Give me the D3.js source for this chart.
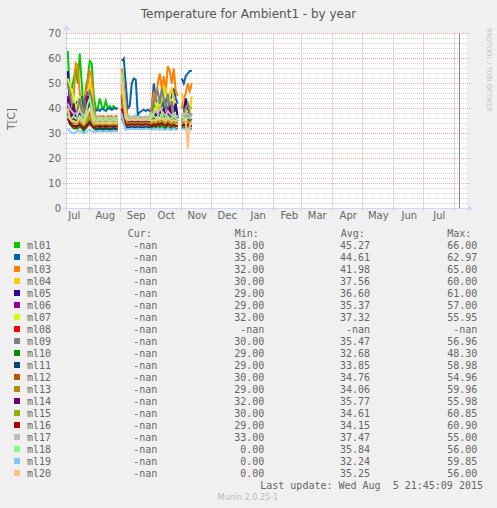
<!DOCTYPE html>
<html>
<head>
<meta charset="utf-8">
<script src="https://cdn.jsdelivr.net/npm/d3@7"></script>
<style>
html, body { margin: 0; padding: 0; background: #f0f0f0; }
svg { display: block; }
text { font-family: "DejaVu Sans", sans-serif; fill: #666; }
.mono { font-family: "DejaVu Sans Mono", monospace; font-size: 10px; white-space: pre; }
</style>
</head>
<body>
<svg id="chart" width="497" height="508"></svg>
<script>
// Werte (alle 2 Tage ab 10. Juli 2014, null = Lücke)
var ml01 = [63,47,48,52,56,50,62,50,38,48,52,59,58,45, 40,40,44,41,40,43,40,41,40,41,40,40, null, 52,48,41,
  36.5,36.8,36.5,37,36.8,36.5,36.8,36.5,36.5,36.8,36.5,36.8, 38,42,40,41,39,43,41,40,44,41,42,40,39,39, null, 40,41,42,40,41,40];
var ml02 = [40,45,46,42,42,43,43,45,38,40,41,40,41,40, 39,39.5,39,40,39.5,39,40,40,39.5,40,40,40, null, 59,60,50,
  40,41,50,52,51.5,37.5,38.5,39,39.5,39,39.5,39, 40,50,44,42,43,41,42,44,41,43,45,48,44,42, null, 52,50,53,54,55,55];
var ml03 = [45,40,43,45,58,57,46,40,37,46,50,55,53,40, 37,36.5,37,36.8,37,36.5,37,36.8,37,36.5,37,36.8, null, 56,50,42,
  35.5,36,35.5,36,35.8,35.5,36,35.5,35.8,36,35.5,36, 40,46,44,50,54,48,53,46,57,55,50,56,47,45, null, 40,44,46,50,47,50];
var ml04 = [50,46,44,40,38,40,42,38,36,40,44,50,48,38, 35,35,35.5,35,35,35.5,35,35,35,35.5,35,35, null, 50,45,38,
  35,35.5,35,35,35.5,35,35,35,35.5,35,35,35, 37,40,38,42,40,44,49,48,42,46,48,44,40,38, null, 46,43,38,37,39,45];
var ml05 = [55,42,38,36,35,36,38,35,33,36,40,47,38,34, 33.5,33.5,34,33.5,33.5,34,33.5,33.5,33.5,34,33.5,33.5, null, 45,40,35,
  34,34,34.5,34,34,34.5,34,34,34,34.5,34,34, 35,36,38,36,37,35,38,36,40,37,36,38,42,36, null, 36,38,44,40,37,38];
var ml06 = [45,40,38,40,36,35,37,36,33,44,46,42,37,34, 33.8,34,33.8,33.8,34,33.8,33.8,34,33.8,33.8,34,33.8, null, 44,40,35,
  34.5,34.5,35,34.5,34.5,35,34.5,34.5,34.5,35,34.5,34.5, 35,37,36,38,39,36,37,35,38,36,35,37,36,35, null, 35,36,37,36,35,36];
var ml07 = [52,49,47,44,40,42,45,38,35,40,42,48,44,36, 35.5,35.5,36,35.5,35.5,36,35.5,35.5,35.5,36,35.5,35.5, null, 48,42,36,
  35.5,35.5,36,35.5,35.5,36,35.5,35.5,35.5,36,35.5,35.5, 36,38,40,42,44,46,47,45,42,44,40,38,37,36, null, 36,38,40,38,37,38];
var ml08 = [];
var ml09 = [50,46,42,40,38,40,44,39,36,42,45,47,44,37, 35.2,35.5,35.2,35.2,35.5,35.2,35.2,35.5,35.2,35.2,35.5,35.2, null, 50,44,37,
  35.5,35.5,36,35.5,35.5,36,35.5,35.5,35.5,36,35.5,35.5, 38,42,45,47,42,48,44,40,46,39,43,38,36,37, null, 37,38,40,42,38,37];
var ml10 = [38,34,33,32,32,32,33,32,31,32,33,34,33,32, 31.5,31.5,31.8,31.5,31.5,31.8,31.5,31.5,31.5,31.8,31.5,31.5, null, 36,34,32,
  32,32,32.3,32,32,32.3,32,32,32,32.3,32,32, 32,33,32.5,33,32.5,33,32.5,32,33,32.5,32,32.5,32,32, null, 32,32.5,32,32.5,32,32];
var ml11 = [40,35,34,33,33,33,34,33,32,33,34,35,34,33, 32,32,32.3,32,32,32.3,32,32,32,32.3,32,32, null, 38,35,33,
  32.5,32.5,32.8,32.5,32.5,32.8,32.5,32.5,32.5,32.8,32.5,32.5, 33,34,33.5,34,33.5,34,33.5,33,34,33.5,33,33.5,33,33, null, 33,33.5,33,33.5,33,33];
var ml12 = [42,37,36,35,35,35,36,35,34,35,36,38,36,34, 33.8,33.8,34,33.8,33.8,34,33.8,33.8,33.8,34,33.8,33.8, null, 44,38,35,
  34,34,34.3,34,34,34.3,34,34,34,34.3,34,34, 34.5,35,35.5,35,36,35,35.5,35,36,35,34.5,35,34.5,34.5, null, 34.5,35,34.5,35,34.5,34.5];
var ml13 = [40,36,35,34,34,34,35,34,33,34,35,36,35,33.5, 33,33,33.3,33,33,33.3,33,33,33,33.3,33,33, null, 42,37,34,
  33.5,33.5,33.8,33.5,33.5,33.8,33.5,33.5,33.5,33.8,33.5,33.5, 34,34.5,34,35,34.5,35,34.5,34,35,34.5,34,34.5,34,34, null, 34,34.5,34,34.5,34,34];
var ml14 = [44,38,36,42,35,35,36,35,34,38,45,40,36,34.5, 34.2,34.2,34.5,34.2,34.2,34.5,34.2,34.2,34.2,34.5,34.2,34.2, null, 45,39,35,
  34.8,34.8,35,34.8,34.8,35,34.8,34.8,34.8,35,34.8,34.8, 35,36,35.5,37,36,38,40,37,36,41,37,36,35.5,35, null, 35,36,37,38,36,35.5];
var ml15 = [40,36,35,34,34,35,36,34,33,35,36,37,35,33.5, 33.5,33.5,33.8,33.5,33.5,33.8,33.5,33.5,33.5,33.8,33.5,33.5, null, 46,39,35,
  34,34,34.3,34,34,34.3,34,34,34,34.3,34,34, 34.5,35,34.5,35.5,35,36,35,34.5,35.5,35,34.5,35,34.5,34.5, null, 34.5,35,34.5,35,34.5,34.5];
var ml16 = [36,34,33,33,32.5,33,33.5,33,32,33,33.5,34,33,32.5, 32.8,32.8,33,32.8,32.8,33,32.8,32.8,32.8,33,32.8,32.8, null, 40,36,33.5,
  33.5,33.5,33.8,33.5,33.5,33.8,33.5,33.5,33.5,33.8,33.5,33.5, 33,33.5,33,34,33.5,34,33.5,33,34,33.5,33,33.5,33,33, null, 33,33.5,33,33.5,33,33];
var ml17 = [42,40,39,38,38,38,39,38,37,38,39,40,39,37, 36.2,36.2,36.5,36.2,36.2,36.5,36.2,36.2,36.2,36.5,36.2,36.2, null, 52,45,38,
  36.5,36.8,36.5,37,36.8,36.5,36.8,36.5,36.5,36.8,36.5,36.8, 37,38,39,38,40,39,38,37,39,38,37,38,37,37, null, 37,38,37,38,37,37];
var ml18 = [37,36,36,37,36,36,37,36,35,38,42,44,40,36, 35.3,35.3,35.6,35.3,35.3,35.6,35.3,35.3,35.3,35.6,35.3,35.3, null, 54,46,37,
  35.5,35.5,35.8,35.5,35.5,35.8,35.5,35.5,35.5,35.8,35.5,35.5, 38,37,36,37,36,38,36,36,37,36,36,37,36,35.5, null, 36,36.5,36,36.5,36,36];
var ml19 = [32,31,30.5,30,30.5,31,31,30.5,30,30.5,31,31.5,31,30.5, 30.8,30.8,31,30.8,30.8,31,30.8,30.8,30.8,31,30.8,30.8, null, 38,34,31.5,
  31.8,31.8,32,31.8,31.8,32,31.8,31.8,31.8,32,31.8,31.8, 31.5,32,31.5,32,31.5,32,31.5,31.5,32,31.5,31.5,32,31.5,31.5, null, 31.5,32,31.5,32,31.5,31.5];
var ml20 = [40,36,35,35,34.5,35,36,35,34,36,38,40,37,34.5, 34.2,34.2,34.5,34.2,34.2,34.5,34.2,34.2,34.2,34.5,34.2,34.2, null, 51,44,36,
  35.3,35.3,35.6,35.3,35.3,35.6,35.3,35.3,35.3,35.6,35.3,35.3, 35,35.5,35,36,35.5,36,35.5,35,36,35.5,35,35.5,35,35, null, 35,35.5,35,24,33,35];

var seriesNames = ["ml01","ml02","ml03","ml04","ml05","ml06","ml07","ml08","ml09","ml10",
                   "ml11","ml12","ml13","ml14","ml15","ml16","ml17","ml18","ml19","ml20"];
var seriesColors = ["#00cc00","#0066b3","#ff8000","#ffcc00","#330099","#990099","#ccff00","#ff0000","#808080","#008f00",
                    "#00487d","#b35a00","#b38f00","#6b006b","#8fb300","#b30000","#bebebe","#80ff80","#80c9ff","#ffc080"];
var seriesValues = [ml01,ml02,ml03,ml04,ml05,ml06,ml07,ml08,ml09,ml10,ml11,ml12,ml13,ml14,ml15,ml16,ml17,ml18,ml19,ml20];

var curValues = ["-nan","-nan","-nan","-nan","-nan","-nan","-nan","-nan","-nan","-nan",
                 "-nan","-nan","-nan","-nan","-nan","-nan","-nan","-nan","-nan","-nan"];
var minValues = ["38.00","35.00","32.00","30.00","29.00","29.00","32.00","-nan","30.00","29.00",
                 "29.00","30.00","29.00","32.00","30.00","29.00","33.00","0.00","0.00","0.00"];
var avgValues = ["45.27","44.61","41.98","37.56","36.60","35.37","37.32","-nan","35.47","32.68",
                 "33.85","34.76","34.06","35.77","34.61","34.15","37.47","35.84","32.24","35.25"];
var maxValues = ["66.00","62.97","65.00","60.00","61.00","57.00","55.95","-nan","56.96","48.30",
                 "58.98","54.96","59.96","55.98","60.85","60.90","55.00","56.00","59.85","56.00"];

var yTicks = [0, 10, 20, 30, 40, 50, 60, 70];
var monthNames = ["Jul","Aug","Sep","Oct","Nov","Dec","Jan","Feb","Mar","Apr","May","Jun","Jul"];

var dataStart = new Date(Date.UTC(2014, 6, 10));
var stepDays = 2;
var lastUpdate = new Date(Date.UTC(2015, 7, 5, 21, 45, 9));

(function() {
    var svg = d3.select("#chart");
    var plotLeft = 67, plotRight = 467, plotTop = 33.5, plotBottom = 208.5;

    var x = d3.scaleUtc()
        .domain([new Date(Date.UTC(2014, 6, 9, 6)), new Date(Date.UTC(2015, 7, 13, 6))])
        .range([plotLeft, plotRight]);
    var y = d3.scaleLinear().domain([0, 70]).range([plotBottom, plotTop]);

    // Zeichenfläche
    svg.append("rect").attr("x", plotLeft).attr("y", plotTop)
        .attr("width", plotRight - plotLeft).attr("height", plotBottom - plotTop)
        .attr("fill", "#ffffff");

    // Raster
    var grid = svg.append("g");
    var minor = d3.range(0, 71, 2).filter(v => v % 10 !== 0);
    grid.selectAll(".minor").data(minor).enter().append("line")
        .attr("x1", 65).attr("x2", 468)
        .attr("y1", d => y(d)).attr("y2", d => y(d))
        .attr("stroke", "#d4d4d4").attr("stroke-dasharray", "1,1");

    var monthStarts = d3.utcMonth.range(new Date(Date.UTC(2014, 7, 1)), new Date(Date.UTC(2015, 7, 2)));
    grid.selectAll(".vgrid").data(monthStarts).enter().append("line")
        .attr("x1", d => Math.round(x(d)) - 0.5).attr("x2", d => Math.round(x(d)) - 0.5)
        .attr("y1", plotTop).attr("y2", 211)
        .attr("stroke", "#f4a3a3").attr("stroke-dasharray", "1,1");

    grid.selectAll(".major").data(yTicks.filter(v => v > 0)).enter().append("line")
        .attr("x1", 63).attr("x2", 470)
        .attr("y1", d => y(d)).attr("y2", d => y(d))
        .attr("stroke", "#f4a3a3").attr("stroke-dasharray", "1,1");

    // Linien
    var line = d3.line()
        .defined(d => d != null)
        .x((d, i) => x(d3.utcDay.offset(dataStart, i * stepDays)))
        .y(d => y(d));

    svg.append("g").selectAll("path")
        .data(seriesValues)
        .enter().append("path")
        .attr("d", d => d.length ? line(d) : null)
        .attr("fill", "none")
        .attr("stroke", (d, i) => seriesColors[i])
        .attr("stroke-width", 2);

    // Zeitpunkt letztes Update
    svg.append("line")
        .attr("x1", Math.round(x(lastUpdate)) - 0.5).attr("x2", Math.round(x(lastUpdate)) - 0.5)
        .attr("y1", plotTop).attr("y2", plotBottom)
        .attr("stroke", "#888888");

    // Achsen
    var axisColor = "#cfd6f8";
    svg.append("line").attr("x1", 66.5).attr("x2", 66.5).attr("y1", 211).attr("y2", 29)
        .attr("stroke", axisColor);
    svg.append("path").attr("d", "M63.5,30L69.5,30L66.5,25Z").attr("fill", axisColor);
    svg.append("line").attr("x1", 63).attr("x2", 469).attr("y1", plotBottom).attr("y2", plotBottom)
        .attr("stroke", axisColor);
    svg.append("path").attr("d", "M468,205.5L468,211.5L473,208.5Z").attr("fill", axisColor);

    var yAxis = svg.append("g").attr("transform", "translate(" + plotLeft + ",0)")
        .call(d3.axisLeft(y).tickValues(yTicks).tickSize(0).tickPadding(6));
    yAxis.select(".domain").remove();
    yAxis.selectAll("text").style("font-size", "10px").style("font-family", "DejaVu Sans").attr("fill", "#666");

    var labelDates = monthNames.map((m, i) => d3.utcDay.offset(d3.utcMonth.offset(new Date(Date.UTC(2014, 6, 1)), i), 15));
    var xAxis = svg.append("g").attr("transform", "translate(0," + plotBottom + ")")
        .call(d3.axisBottom(x).tickValues(labelDates).tickFormat((d, i) => monthNames[i]).tickSize(0).tickPadding(3.5));
    xAxis.select(".domain").remove();
    xAxis.selectAll("text").style("font-size", "10px").style("font-family", "DejaVu Sans").attr("fill", "#666");

    // Titel und Beschriftungen
    svg.append("text").attr("x", 248.5).attr("y", 17.5).attr("text-anchor", "middle")
        .style("font-size", "12px").style("fill", "#555")
        .text("Temperature for Ambient1 - by year");

    svg.append("text").attr("transform", "translate(11.5,119) rotate(-90)")
        .attr("text-anchor", "middle").attr("dy", "0.35em")
        .style("font-size", "10.5px")
        .text("T[C]");

    svg.append("text").attr("transform", "translate(487,28) rotate(90)")
        .attr("text-anchor", "start")
        .style("font-size", "6.5px").style("fill", "#c0c0c0")
        .text("RRDTOOL / TOBI OETIKER");

    // Legende
    var legend = svg.append("g");
    var headY = 237, rowY = 249, rowH = 12;
    [["Cur:", 127.7], ["Min:", 234.7], ["Avg:", 340.7], ["Max:", 447.3]].forEach(function(h) {
        legend.append("text").attr("class", "mono").attr("x", h[1]).attr("y", headY).text(h[0]);
    });

    var rows = legend.selectAll(".row").data(seriesNames).enter().append("g")
        .attr("transform", (d, i) => "translate(0," + (rowY + i * rowH) + ")");
    rows.append("rect").attr("x", 14).attr("y", -7).attr("width", 6).attr("height", 6)
        .attr("fill", (d, i) => seriesColors[i]);
    rows.append("text").attr("class", "mono").attr("x", 27).text(d => d);
    var cols = [[curValues, 157.3], [minValues, 264.3], [avgValues, 370], [maxValues, 477.3]];
    cols.forEach(function(c) {
        rows.append("text").attr("class", "mono").attr("x", c[1]).attr("text-anchor", "end")
            .text((d, i) => c[0][i]);
    });

    svg.append("text").attr("class", "mono").attr("x", 483).attr("y", 489).attr("text-anchor", "end")
        .text("Last update: Wed Aug  5 21:45:09 2015");

    svg.append("text").attr("x", 248).attr("y", 500).attr("text-anchor", "middle")
        .style("font-size", "8px").style("fill", "#bbbbbb")
        .text("Munin 2.0.25-1");
})();
</script>
</body>
</html>
